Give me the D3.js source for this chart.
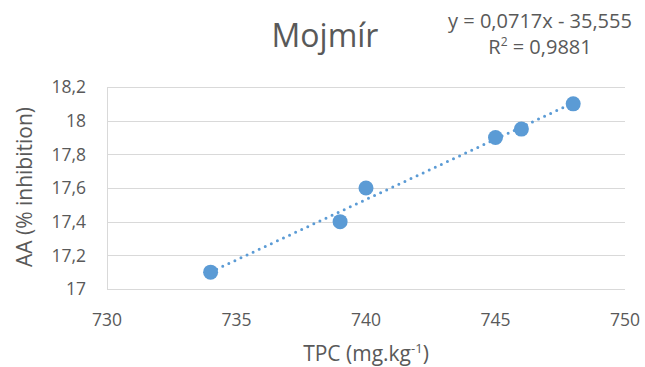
<!DOCTYPE html>
<html>
<head>
<meta charset="utf-8">
<script src="https://cdn.jsdelivr.net/npm/d3@7"></script>
<style>
  body { margin: 0; background: #fff; }
  text { font-family: "Open Sans", sans-serif; fill: #595959; }
</style>
</head>
<body>
<script>
// TPC vs AA values
const tpc = [734, 739, 740, 745, 746, 748];
const aa = [17.1, 17.4, 17.6, 17.9, 17.95, 18.1];
const xTicks = [730, 735, 740, 745, 750];
const yTicks = [17, 17.2, 17.4, 17.6, 17.8, 18, 18.2];
const chartTitle = "Mojmír";
const equationText = "y = 0,0717x - 35,555";
const r2Text = "0,9881";

const width = 645;
const height = 367;
const margin = {top: 87, right: 20, bottom: 78, left: 107};

const svg = d3.select("body").append("svg")
    .attr("width", width)
    .attr("height", height);

const x = d3.scaleLinear()
    .domain([730, 750])
    .range([margin.left, 625]);

const y = d3.scaleLinear()
    .domain([17, 18.2])
    .range([289, margin.top]);

const comma = d => String(d).replace(".", ",");

// horizontal gridlines
svg.append("g")
  .selectAll("line")
  .data(yTicks)
  .join("line")
    .attr("x1", x(730))
    .attr("x2", x(750))
    .attr("y1", d => Math.round(y(d)) + 0.5)
    .attr("y2", d => Math.round(y(d)) + 0.5)
    .attr("stroke", "#d9d9d9")
    .attr("stroke-width", 1);

// left vertical axis line
svg.append("line")
    .attr("x1", Math.round(x(730)) + 0.5)
    .attr("x2", Math.round(x(730)) + 0.5)
    .attr("y1", y(18.2))
    .attr("y2", y(17))
    .attr("stroke", "#d9d9d9");

// y tick labels
svg.append("g")
  .selectAll("text")
  .data(yTicks)
  .join("text")
    .attr("x", 86)
    .attr("y", d => y(d))
    .attr("dy", "0.36em")
    .attr("text-anchor", "end")
    .style("font-size", "17.5px")
    .text(comma);

// x tick labels
svg.append("g")
  .selectAll("text")
  .data(xTicks)
  .join("text")
    .attr("x", d => x(d))
    .attr("y", 320)
    .attr("dy", "0.36em")
    .attr("text-anchor", "middle")
    .style("font-size", "17.5px")
    .text(d => d);

// linear trendline (least squares over the points)
const mx = d3.mean(tpc), my = d3.mean(aa);
const slope = d3.sum(tpc, (v, i) => (v - mx) * (aa[i] - my)) / d3.sum(tpc, v => (v - mx) ** 2);
const intercept = my - slope * mx;
const xr = d3.extent(tpc);

svg.append("line")
    .attr("x1", x(xr[0]))
    .attr("y1", y(slope * xr[0] + intercept))
    .attr("x2", x(xr[1]))
    .attr("y2", y(slope * xr[1] + intercept))
    .attr("stroke", "#5b9bd5")
    .attr("stroke-width", 3)
    .attr("stroke-linecap", "round")
    .attr("stroke-dasharray", "0 6.7");

// points
svg.append("g")
  .selectAll("circle")
  .data(tpc)
  .join("circle")
    .attr("cx", d => x(d))
    .attr("cy", (d, i) => y(aa[i]))
    .attr("r", 7.5)
    .attr("fill", "#5b9bd5");

// title
svg.append("text")
    .attr("x", 325)
    .attr("y", 47)
    .attr("text-anchor", "middle")
    .style("font-size", "32px")
    .text(chartTitle);

// equation
svg.append("text")
    .attr("x", 540)
    .attr("y", 28)
    .attr("text-anchor", "middle")
    .style("font-size", "20px")
    .text(equationText);

const r2 = svg.append("text")
    .attr("x", 540)
    .attr("y", 54)
    .attr("text-anchor", "middle")
    .style("font-size", "20px");
r2.append("tspan").text("R");
r2.append("tspan").attr("dy", -8).style("font-size", "12px").text("2");
r2.append("tspan").attr("dy", 8).text(" = " + r2Text);

// axis titles
const xt = svg.append("text")
    .attr("x", 366)
    .attr("y", 361)
    .attr("text-anchor", "middle")
    .style("font-size", "21px");
xt.append("tspan").text("TPC (mg.kg");
xt.append("tspan").attr("dy", -8).style("font-size", "13px").text("-1");
xt.append("tspan").attr("dy", 8).text(")");

svg.append("text")
    .attr("transform", "translate(32,187) rotate(-90)")
    .attr("text-anchor", "middle")
    .style("font-size", "21px")
    .text("AA (% inhibition)");
</script>
</body>
</html>
